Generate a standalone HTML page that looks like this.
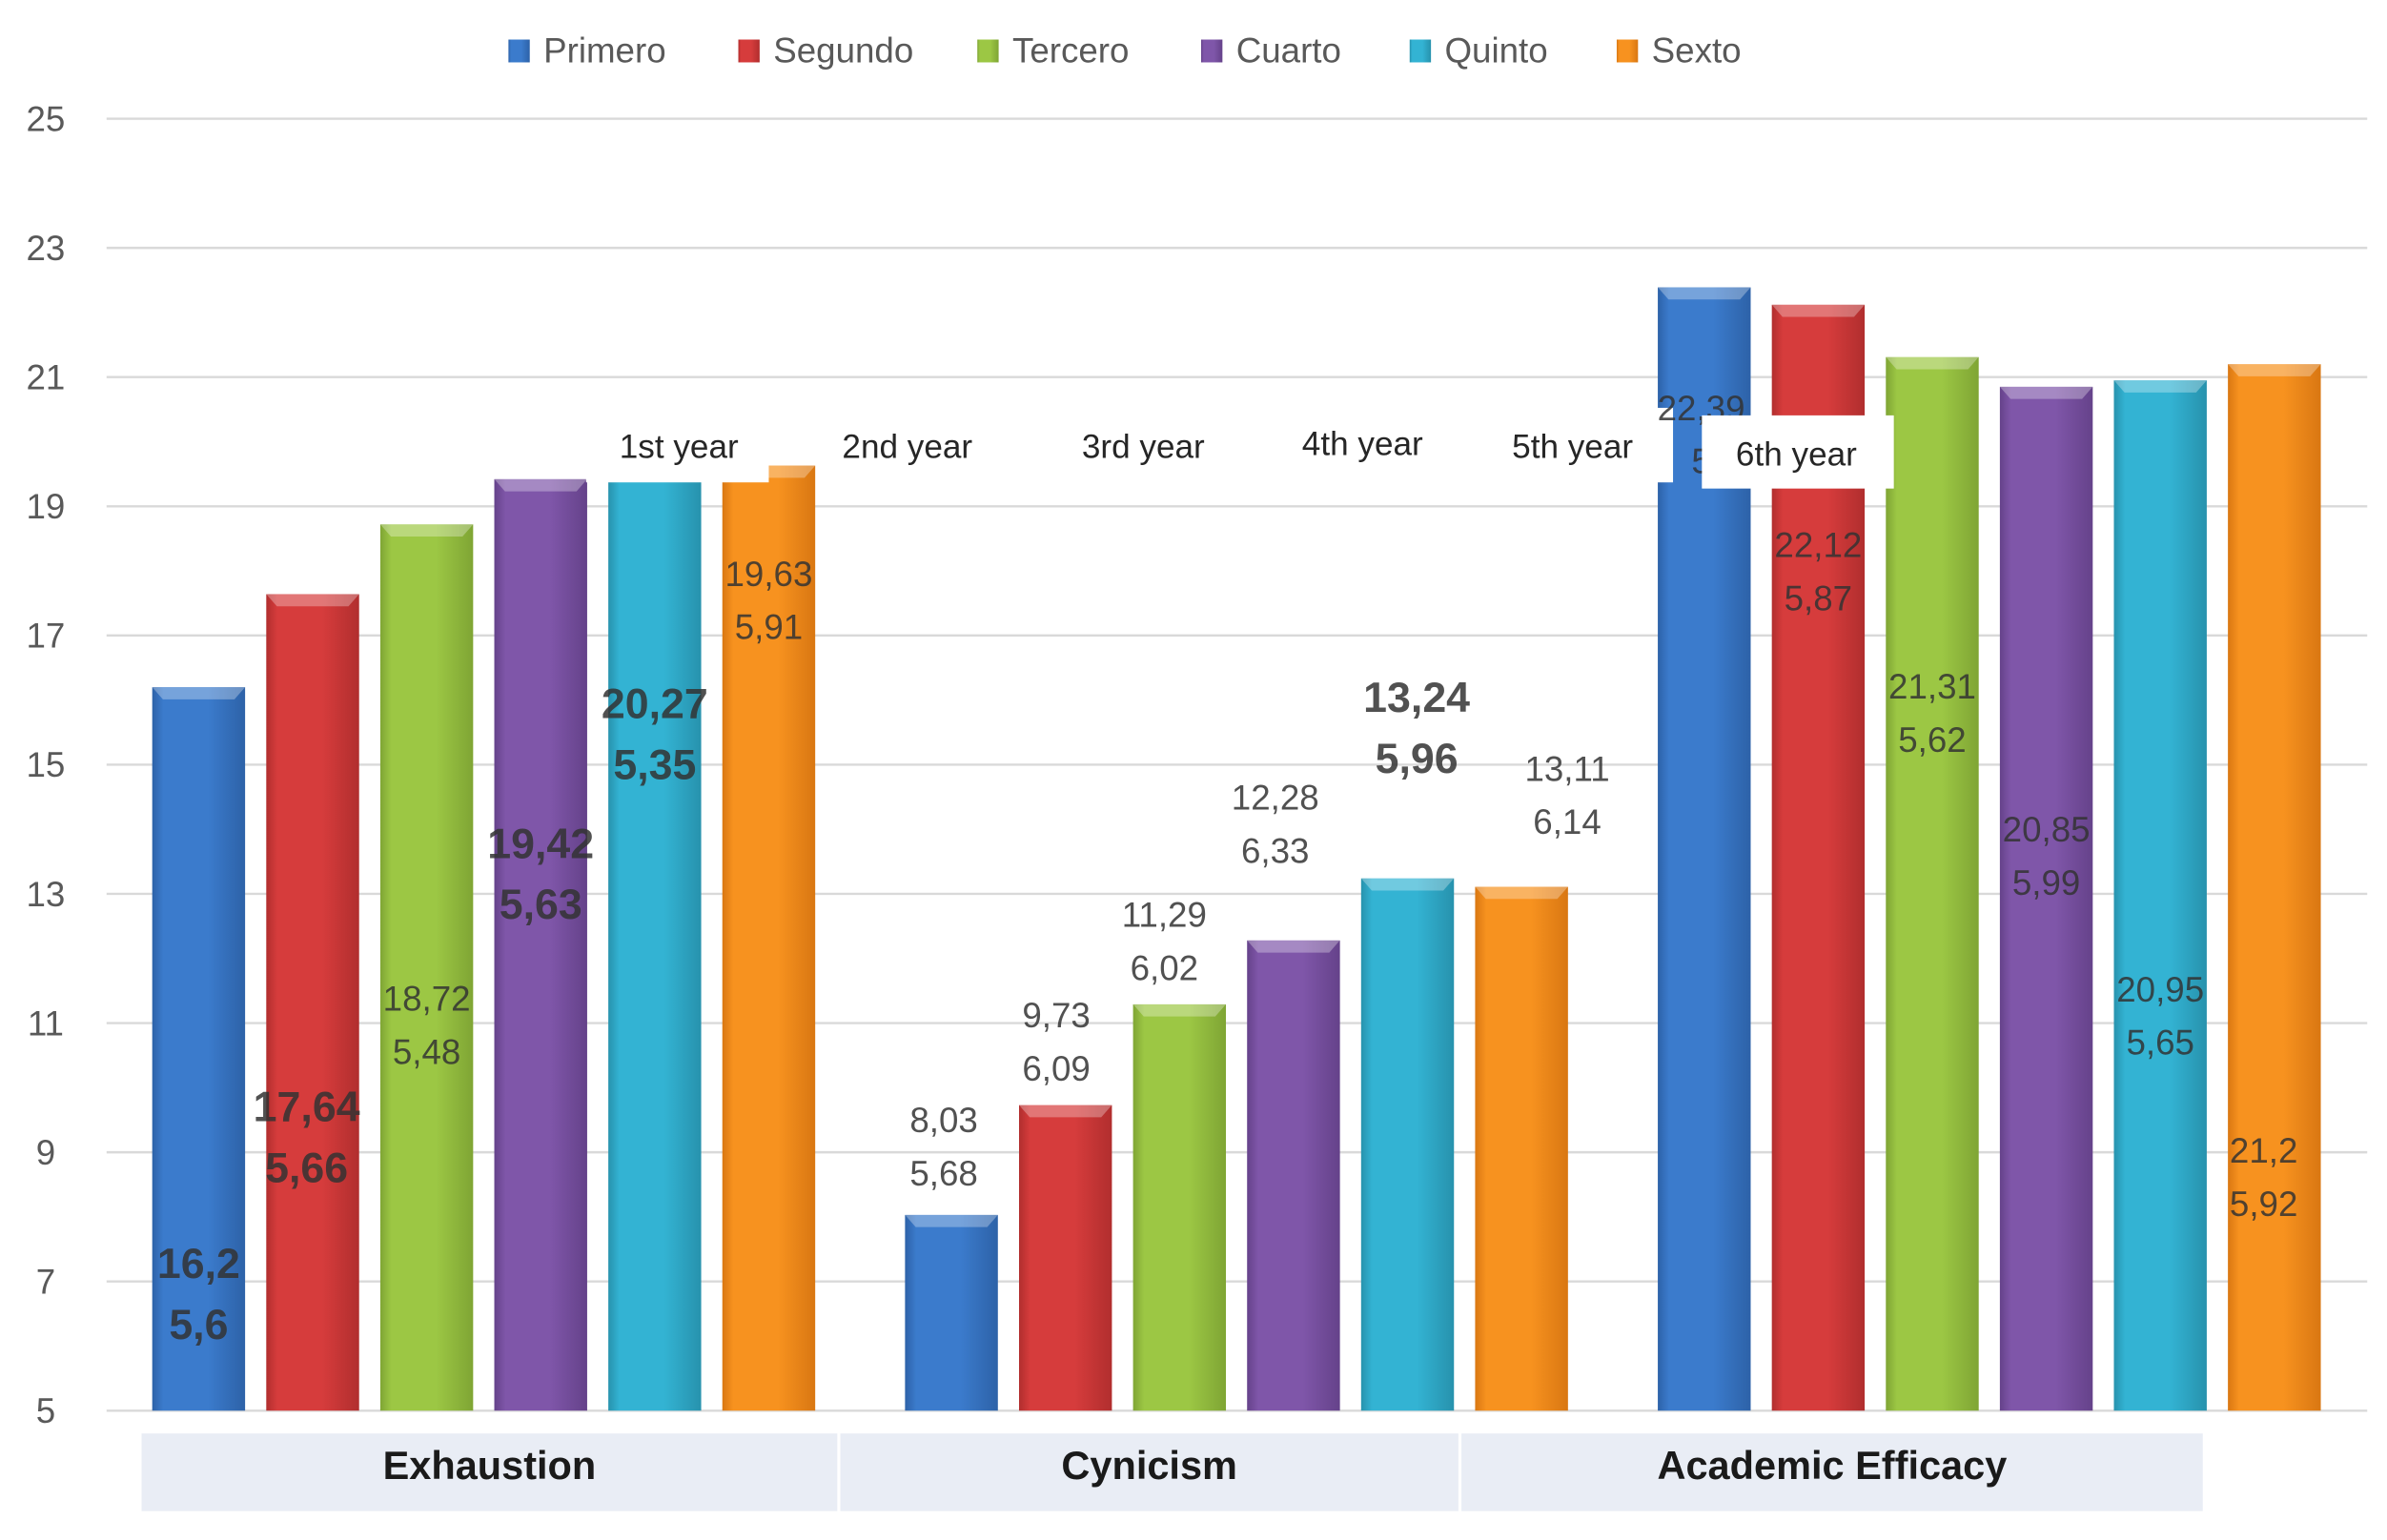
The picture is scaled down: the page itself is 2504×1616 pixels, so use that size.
<!DOCTYPE html>
<html><head><meta charset="utf-8"><style>
html,body{margin:0;padding:0;background:#fff;}
svg{display:block;}
text{font-family:"Liberation Sans",sans-serif;}
</style></head><body>
<svg id="chart" width="2504" height="1616" viewBox="0 0 1568 1012" preserveAspectRatio="none" xmlns="http://www.w3.org/2000/svg"></svg>
<script>
const categories = ["Exhaustion", "Cynicism", "Academic Efficacy"];
const seriesNames = ["Primero", "Segundo", "Tercero", "Cuarto", "Quinto", "Sexto"];
const meanValues = [
  [16.2, 17.64, 18.72, 19.42, 20.27, 19.63],
  [8.03, 9.73, 11.29, 12.28, 13.24, 13.11],
  [22.39, 22.12, 21.31, 20.85, 20.95, 21.2]
];
const sdValues = [
  [5.6, 5.66, 5.48, 5.63, 5.35, 5.91],
  [5.68, 6.09, 6.02, 6.33, 5.96, 6.14],
  [5.0, 5.87, 5.62, 5.99, 5.65, 5.92]
];
const yTicks = [5, 7, 9, 11, 13, 15, 17, 19, 21, 23, 25];
const yearLabels = ["1st year", "2nd year", "3rd year", "4th year", "5th year", "6th year"];

// layout (styling only)
const colors = ["#3b7bcc", "#d63c3c", "#9cc744", "#7f56a9", "#33b3d3", "#f7921f"];
const darks = ["#2d62a8", "#b12e2e", "#7fa534", "#65428a", "#2792ad", "#d97712"];
const labelLayout = [ // [dx from bar center, top line y px, bold]
  [[0,830,1],[-4,727,1],[0,656,0],[0,554,1],[0,462,1],[0,377,0]],
  [[-5,736,0],[-6,667,0],[-10,601,0],[-12,524,0],[6,458,1],[30,505,0]],
  [[-2,268,0],[0,358,0],[0,451,0],[0,545,0],[0,650,0],[-7,756,0]]
];
const yearPos = [[446,293],[596,293],[751,293],[895,291],[1033,293],[1180,298]];

const NS = "http://www.w3.org/2000/svg";
const svg = document.getElementById("chart");
function mk(tag, attrs, parent) {
  const e = document.createElementNS(NS, tag);
  for (const k in attrs) e.setAttribute(k, attrs[k]);
  (parent || svg).appendChild(e);
  return e;
}
const Y0 = 927, Y1 = 78, vMin = 5, vMax = 25;
function yScale(v) { return Y0 - (v - vMin) / (vMax - vMin) * (Y0 - Y1); }
const groupStart = 100, groupStep = 494.5, barStep = 74.9, barW = 61;
function xBar(g, s) { return groupStart + g * groupStep + s * barStep; }

const defs = mk("defs", {});
colors.forEach((c, i) => {
  const lg = mk("linearGradient", {id: "g" + i, x1: "0", y1: "0", x2: "1", y2: "0"}, defs);
  mk("stop", {offset: "0", "stop-color": darks[i]}, lg);
  mk("stop", {offset: "0.12", "stop-color": c}, lg);
  mk("stop", {offset: "0.6", "stop-color": c}, lg);
  mk("stop", {offset: "1", "stop-color": darks[i]}, lg);
});

yTicks.forEach(t => {
  const gl = mk("line", {x1: 70, x2: 1555, y1: yScale(t), y2: yScale(t), stroke: "#d9d9d9", "stroke-width": 1.5});
  
  
  const tl = mk("text", {x: 30, y: yScale(t) + 8, "text-anchor": "middle", "font-size": 23, fill: "#595959"});
  tl.textContent = t;
  
  
});

const bandX = [[93,550],[552,958],[960,1447]];
categories.forEach((c, g) => {
  const r = mk("rect", {x: bandX[g][0], y: 942, width: bandX[g][1]-bandX[g][0], height: 51, fill: "#e9edf5"});
  
  
  const t = mk("text", {x: (bandX[g][0]+bandX[g][1])/2, y: 972, "text-anchor": "middle", "font-size": 26, "font-weight": "bold", fill: "#1a1a1a"});
  t.textContent = c;
  
  
});

meanValues.forEach((row, g) => {
  row.forEach((v, s) => {
    const x = xBar(g, s), y = yScale(v), h = Y0 - y;
    const b = mk("rect", {x: x, y: y, width: barW, height: h, fill: "url(#g" + s + ")"});
    
    
    const bev = mk("polygon", {points: `${x},${y} ${x+barW},${y} ${x+barW-7},${y+8} ${x+7},${y+8}`, fill: "#ffffff", "fill-opacity": 0.3});
    
    
  });
});

[[385,268,120,49],[537,268,562,49],[1118,273,126,48]].forEach((r,i) => {
  const w = mk("rect", {x: r[0], y: r[1], width: r[2], height: r[3], fill: "#ffffff"});
  
  
});
yearLabels.forEach((yl, i) => {
  const t = mk("text", {x: yearPos[i][0], y: yearPos[i][1] + 8, "text-anchor": "middle", "font-size": 22, fill: "#262626"});
  t.textContent = yl;
  
  
});

function fmt(v) { return String(v).replace(".", ","); }
meanValues.forEach((row, g) => {
  row.forEach((v, s) => {
    const L = labelLayout[g][s];
    const cx = xBar(g, s) + barW/2 + L[0];
    const bold = L[2];
    const fs = bold ? 28 : 23, gap = bold ? 40 : 35;
    const t1 = mk("text", {x: cx, y: L[1] + fs*0.35, "text-anchor": "middle", "font-size": fs, "font-weight": bold ? "bold" : "normal", fill: "#333", "fill-opacity": 0.85});
    t1.textContent = fmt(v);
    
    
    const t2 = mk("text", {x: cx, y: L[1] + gap + fs*0.35, "text-anchor": "middle", "font-size": fs, "font-weight": bold ? "bold" : "normal", fill: "#333", "fill-opacity": 0.85});
    t2.textContent = fmt(sdValues[g][s]);
    
    
  });
});
const cov = mk("rect", {x: 1118, y: 273, width: 126, height: 48, fill: "#ffffff"});


const t6 = mk("text", {x: 1180, y: 306, "text-anchor": "middle", "font-size": 22, fill: "#262626"});
t6.textContent = "6th year";



const legX = [334, 485, 642, 789, 926, 1062];
seriesNames.forEach((n, i) => {
  const sq = mk("rect", {x: legX[i], y: 26, width: 14, height: 15, fill: "url(#g" + i + ")"});
  
  
  const t = mk("text", {x: legX[i] + 23, y: 41, "font-size": 23, fill: "#595959"});
  t.textContent = n;
  
  
});
</script>
</body></html>
